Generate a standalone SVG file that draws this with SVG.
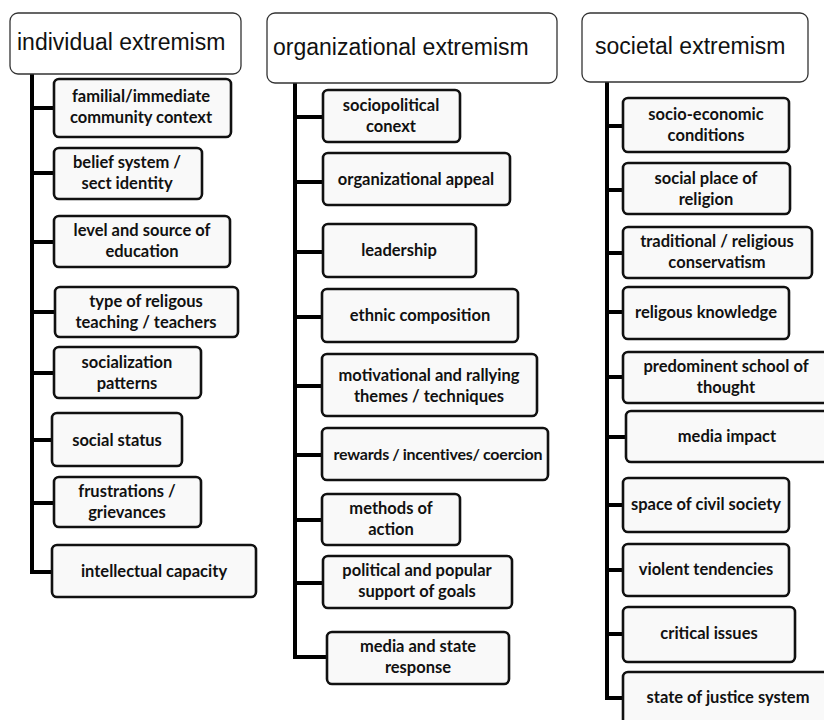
<svg xmlns="http://www.w3.org/2000/svg" width="824" height="720" viewBox="0 0 824 720">
<style>
.hdr rect{fill:#fff;stroke:#333;stroke-width:1.3}
.hdr text{font-family:"Liberation Sans",Arial,sans-serif;font-size:23px;fill:#111}
.n rect{fill:#f9f9f9;stroke:#111;stroke-width:2.6}
.n text{font-family:Lato,"Noto Sans",sans-serif;font-weight:bold;font-size:16.5px;fill:#111;text-anchor:middle}
.n text.tight{font-size:16px;letter-spacing:-0.2px;word-spacing:-0.5px}
.c{fill:none;stroke:#000;stroke-width:4;stroke-linejoin:miter}
</style>
<rect width="824" height="720" fill="#fff"/>
<g id="connectors">
<path class="c" d="M32 74 V572 H52 M32 108 H54 M32 173 H54 M32 242 H54 M32 312 H55 M32 373 H54 M32 440 H52 M32 503 H54"/>
<path class="c" d="M295 83 V657 H327 M295 117 H323 M295 182 H323 M295 252 H323 M295 317 H322 M295 386 H322 M295 455 H322 M295 520 H322 M295 583 H323"/>
<path class="c" d="M607 82 V698 H623 M607 126 H623 M607 190 H623 M607 253 H623 M607 312 H623 M607 377 H623 M607 437 H626 M607 505 H623 M607 570 H623 M607 634 H623"/>
</g>
<g id="h1" class="hdr"><rect x="10" y="13" width="231" height="61" rx="8"/><text x="17" y="50">individual extremism</text></g>
<g id="h2" class="hdr"><rect x="267" y="13" width="290" height="70" rx="8"/><text x="273" y="55">organizational extremism</text></g>
<g id="h3" class="hdr"><rect x="582" y="13" width="226" height="69" rx="8"/><text x="595" y="54">societal extremism</text></g>

<g id="a1" class="n"><rect x="54" y="79" width="177" height="58" rx="5"/><text x="141" y="102">familial/immediate</text><text x="141" y="123">community context</text></g>
<g id="a2" class="n"><rect x="54" y="148" width="148" height="51" rx="5"/><text x="127" y="168">belief system /</text><text x="127" y="189">sect identity</text></g>
<g id="a3" class="n"><rect x="54" y="216" width="176" height="51" rx="5"/><text x="142" y="236">level and source of</text><text x="142" y="257">education</text></g>
<g id="a4" class="n"><rect x="55" y="287" width="183" height="50" rx="5"/><text x="146" y="307">type of religous</text><text x="146" y="328">teaching / teachers</text></g>
<g id="a5" class="n"><rect x="54" y="347" width="147" height="51" rx="5"/><text x="127" y="368">socialization</text><text x="127" y="389">patterns</text></g>
<g id="a6" class="n"><rect x="52" y="413" width="130" height="53" rx="5"/><text x="117" y="446">social status</text></g>
<g id="a7" class="n"><rect x="54" y="477" width="147" height="50" rx="5"/><text x="127" y="497">frustrations /</text><text x="127" y="518">grievances</text></g>
<g id="a8" class="n"><rect x="52" y="545" width="204" height="52" rx="5"/><text x="154" y="577">intellectual capacity</text></g>

<g id="b1" class="n"><rect x="323" y="90" width="137" height="52" rx="5"/><text x="391" y="111">sociopolitical</text><text x="391" y="132">conext</text></g>
<g id="b2" class="n"><rect x="323" y="153" width="187" height="52" rx="5"/><text x="416" y="185">organizational appeal</text></g>
<g id="b3" class="n"><rect x="323" y="224" width="153" height="53" rx="5"/><text x="399" y="256">leadership</text></g>
<g id="b4" class="n"><rect x="322" y="289" width="196" height="53" rx="5"/><text x="420" y="321">ethnic composition</text></g>
<g id="b5" class="n"><rect x="322" y="354" width="215" height="62" rx="5"/><text x="429" y="381">motivational  and rallying</text><text x="429" y="402">themes / techniques</text></g>
<g id="b6" class="n"><rect x="322" y="428" width="226" height="52" rx="5"/><text class="tight" x="438" y="460">rewards / incentives/ coercion</text></g>
<g id="b7" class="n"><rect x="322" y="494" width="138" height="51" rx="5"/><text x="391" y="514">methods of</text><text x="391" y="535">action</text></g>
<g id="b8" class="n"><rect x="323" y="556" width="189" height="52" rx="5"/><text x="417" y="576">political and popular</text><text x="417" y="597">support of goals</text></g>
<g id="b9" class="n"><rect x="327" y="632" width="182" height="52" rx="5"/><text x="418" y="652">media and state</text><text x="418" y="673">response</text></g>

<g id="c1" class="n"><rect x="623" y="98" width="166" height="54" rx="5"/><text x="706" y="120">socio-economic</text><text x="706" y="141">conditions</text></g>
<g id="c2" class="n"><rect x="623" y="163" width="167" height="51" rx="5"/><text x="706" y="184">social place of</text><text x="706" y="205">religion</text></g>
<g id="c3" class="n"><rect x="623" y="227" width="189" height="51" rx="5"/><text x="717" y="247">traditional / religious</text><text x="717" y="268">conservatism</text></g>
<g id="c4" class="n"><rect x="623" y="287" width="166" height="52" rx="5"/><text x="706" y="318">religous knowledge</text></g>
<g id="c5" class="n"><rect x="623" y="352" width="210" height="51" rx="5"/><text x="726" y="372">predominent school of</text><text x="726" y="393">thought</text></g>
<g id="c6" class="n"><rect x="626" y="411" width="206" height="51" rx="5"/><text x="727" y="442">media impact</text></g>
<g id="c7" class="n"><rect x="623" y="478" width="166" height="54" rx="5"/><text x="706" y="510">space of civil society</text></g>
<g id="c8" class="n"><rect x="623" y="544" width="166" height="52" rx="5"/><text x="706" y="575">violent tendencies</text></g>
<g id="c9" class="n"><rect x="623" y="607" width="172" height="55" rx="5"/><text x="709" y="639">critical issues</text></g>
<g id="c10" class="n"><rect x="623" y="672" width="210" height="56" rx="5"/><text x="728" y="703">state of justice system</text></g>
</svg>
